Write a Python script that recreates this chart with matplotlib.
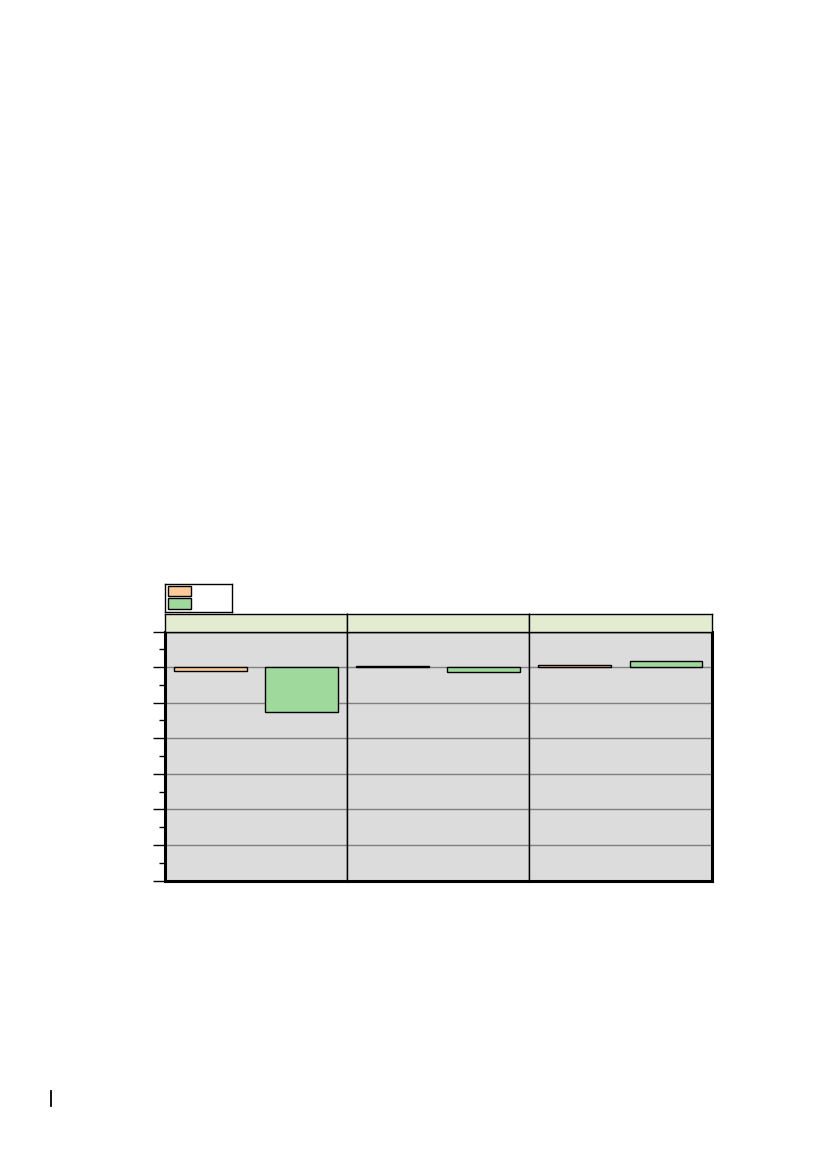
import numpy as np
import matplotlib.pyplot as plt
from matplotlib.patches import Rectangle
from matplotlib.ticker import MultipleLocator

# data (no labels are shown in the reference)
panels = ["", "", ""]
categories = ["", ""]
series_orange = [-0.12, 0.02, 0.07]
series_green = [-1.25, -0.14, 0.16]
y_min, y_max = -6, 1

orange = "#FFCC99"
green = "#A0D99C"
bg = "#DCDCDC"
strip_col = "#E3EBD1"

W, H = 826, 1169
fig = plt.figure(figsize=(W / 100, H / 100), dpi=100)


def fx(px):
    return px / W


def fy(py):
    return 1 - py / H


left, right, top, bottom = 165, 711.5, 631.5, 880.5
strip_top = 614
pw = (right - left) / 3

axes = []
for i, name in enumerate(panels):
    x0 = left + i * pw
    ax = fig.add_axes([fx(x0), fy(bottom), pw / W, (bottom - top) / H])
    ax.set_facecolor(bg)
    vals = [series_orange[i], series_green[i]]
    cols = [orange, green]
    xs = np.arange(len(categories))
    for x, v, c in zip(xs, vals, cols):
        ax.bar(x, v, width=0.8, color=c, edgecolor="black", linewidth=1.0, zorder=3)
    ax.set_xlim(-0.5, len(categories) - 0.5)
    ax.set_ylim(y_min, y_max)
    ax.yaxis.set_major_locator(MultipleLocator(1))
    ax.yaxis.set_minor_locator(MultipleLocator(0.5))
    ax.grid(axis="y", which="major", color="#808080", linewidth=1.0, zorder=1)
    ax.set_xticks([])
    ax.set_yticklabels([])
    for s in ax.spines.values():
        s.set_linewidth(1.0)
        s.set_color("black")
    ax.spines["bottom"].set_linewidth(2.2)
    if i == 0:
        ax.spines["left"].set_linewidth(2.2)
        ax.tick_params(axis="y", which="major", length=9, width=1.0, direction="out")
        ax.tick_params(axis="y", which="minor", length=4, width=1.0, direction="out")
    else:
        ax.tick_params(axis="y", which="both", length=0)
    if i == len(panels) - 1:
        ax.spines["right"].set_linewidth(2.2)

    # facet strip
    sax = fig.add_axes([fx(x0), fy(top), pw / W, (top - strip_top) / H])
    sax.set_facecolor(strip_col)
    sax.set_xticks([])
    sax.set_yticks([])
    for s in sax.spines.values():
        s.set_linewidth(1.0)
    sax.text(0.5, 0.5, name, ha="center", va="center", transform=sax.transAxes)
    axes.append(ax)

# legend (patches only, no labels visible)
lax = fig.add_axes([fx(165), fy(611.5), (231.5 - 165) / W, (611.5 - 583.5) / H])
lax.set_xlim(165, 231.5)
lax.set_ylim(611.5, 583.5)
lax.set_xticks([])
lax.set_yticks([])
for s in lax.spines.values():
    s.set_linewidth(1.0)
for y0, c in [(585.5, orange), (598.0, green)]:
    lax.add_patch(Rectangle((167.8, y0), 22.8, 10.5, facecolor=c,
                            edgecolor="black", linewidth=1.0))

# page marker at the bottom left
fig.add_artist(plt.Line2D([fx(50.5), fx(50.5)], [fy(1091), fy(1105.5)],
                          color="black", linewidth=1.3))

fig.savefig("out.png", dpi=100)
